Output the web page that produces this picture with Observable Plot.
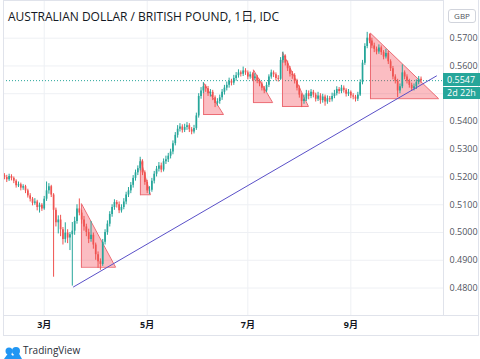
<!DOCTYPE html>
<html><head><meta charset="utf-8">
<script src="https://cdn.jsdelivr.net/npm/d3@7"></script>
<script src="https://cdn.jsdelivr.net/npm/@observablehq/plot@0.6"></script>
<style>
html,body{margin:0;padding:0;background:#fff;}
body{width:480px;height:359px;position:relative;overflow:hidden;font-family:"Open Sans","Noto Sans CJK SC",sans-serif;}
#wrap{position:absolute;left:0;top:0;}
.ov{position:absolute;white-space:nowrap;}
</style></head>
<body>
<div id="wrap"></div>
<script>
// ---- data (AUD/GBP daily, IDC) ----
const opens = [.5205,.5198,.5190,.5202,.5195,.5185,.5168,.5172,.5160,.5165,.5150,.5132,.5120,.5105,.5110,.5090,.5098,.5085,.5120,.5150,
.5165,.5135,.5080,.5035,.5045,.5010,.4975,.4998,.4980,.4992,.5005,.5040,.5085,.5070,.5045,.5020,.5000,.4975,.4990,.4955,
.4920,.4895,.4885,.4965,.5000,.5030,.5065,.5090,.5108,.5100,.5078,.5090,.5110,.5135,.5150,.5170,.5195,.5215,.5230,.5255,
.5215,.5180,.5150,.5152,.5185,.5210,.5228,.5240,.5225,.5255,.5262,.5275,.5290,.5320,.5350,.5372,.5380,.5368,.5378,.5385,
.5370,.5362,.5375,.5420,.5490,.5510,.5525,.5518,.5500,.5505,.5485,.5465,.5472,.5485,.5505,.5520,.5530,.5545,.5538,.5555,
.5565,.5575,.5570,.5582,.5575,.5560,.5568,.5555,.5560,.5545,.5535,.5520,.5510,.5530,.5560,.5575,.5568,.5555,.5552,.5620,
.5635,.5610,.5590,.5570,.5565,.5545,.5520,.5495,.5472,.5480,.5500,.5490,.5505,.5495,.5480,.5492,.5475,.5488,.5470,.5482,
.5478,.5490,.5500,.5515,.5508,.5520,.5512,.5498,.5505,.5492,.5488,.5480,.5495,.5540,.5610,.5670,.5700,.5690,.5672,.5660,
.5650,.5665,.5648,.5632,.5645,.5615,.5590,.5560,.5545,.5510,.5525,.5575,.5560,.5545,.5530,.5518,.5525,.5540,.5552];
const closes = [.5198,.5190,.5202,.5195,.5185,.5168,.5172,.5160,.5165,.5150,.5132,.5120,.5105,.5110,.5090,.5098,.5085,.5120,.5150,.5165,
.5135,.5080,.5035,.5045,.5010,.4975,.4998,.4980,.4992,.5005,.5040,.5085,.5070,.5045,.5020,.5000,.4975,.4990,.4955,.4920,
.4895,.4885,.4965,.5000,.5030,.5065,.5090,.5108,.5100,.5078,.5090,.5110,.5135,.5150,.5170,.5195,.5215,.5230,.5255,.5215,
.5180,.5150,.5152,.5185,.5210,.5228,.5240,.5225,.5255,.5262,.5275,.5290,.5320,.5350,.5372,.5380,.5368,.5378,.5385,.5370,
.5362,.5375,.5420,.5490,.5510,.5525,.5518,.5500,.5505,.5485,.5465,.5472,.5485,.5505,.5520,.5530,.5545,.5538,.5555,.5565,
.5575,.5570,.5582,.5575,.5560,.5568,.5555,.5560,.5545,.5535,.5520,.5510,.5530,.5560,.5575,.5568,.5555,.5552,.5620,.5635,
.5610,.5590,.5570,.5565,.5545,.5520,.5495,.5472,.5480,.5500,.5490,.5505,.5495,.5480,.5492,.5475,.5488,.5470,.5482,.5478,
.5490,.5500,.5515,.5508,.5520,.5512,.5498,.5505,.5492,.5488,.5480,.5495,.5540,.5610,.5670,.5700,.5690,.5672,.5660,.5650,
.5665,.5648,.5632,.5645,.5615,.5590,.5560,.5545,.5510,.5525,.5575,.5560,.5545,.5530,.5518,.5525,.5540,.5552,.5547];
const highs = [.5212,.5206,.5210,.5208,.5200,.5190,.5182,.5178,.5172,.5170,.5156,.5140,.5126,.5122,.5116,.5106,.5104,.5130,.5182,.5176,
.5170,.5140,.5088,.5060,.5062,.5018,.5035,.5010,.5000,.5036,.5055,.5100,.5121,.5080,.5058,.5030,.5012,.5040,.4998,.4962,
.4930,.4905,.4975,.5010,.5042,.5075,.5100,.5118,.5115,.5110,.5100,.5122,.5145,.5162,.5180,.5205,.5225,.5240,.5271,.5262,
.5222,.5188,.5165,.5195,.5220,.5238,.5252,.5250,.5265,.5275,.5285,.5300,.5330,.5360,.5385,.5392,.5388,.5390,.5396,.5392,
.5378,.5386,.5430,.5500,.5522,.5540,.5532,.5526,.5515,.5512,.5492,.5482,.5495,.5515,.5530,.5542,.5556,.5552,.5566,.5576,
.5586,.5582,.5596,.5590,.5582,.5578,.5575,.5572,.5566,.5552,.5542,.5526,.5540,.5568,.5585,.5582,.5575,.5565,.5630,.5650,
.5640,.5618,.5598,.5580,.5572,.5552,.5528,.5500,.5495,.5512,.5510,.5515,.5512,.5502,.5505,.5500,.5498,.5495,.5492,.5490,
.5502,.5512,.5525,.5522,.5530,.5528,.5518,.5515,.5510,.5500,.5494,.5505,.5550,.5620,.5680,.5721,.5715,.5700,.5682,.5668,
.5676,.5672,.5655,.5660,.5652,.5622,.5598,.5568,.5552,.5535,.5604,.5582,.5568,.5552,.5538,.5535,.5550,.5562,.5560];
const lows = [.5190,.5180,.5184,.5186,.5176,.5160,.5162,.5150,.5152,.5140,.5124,.5110,.5096,.5098,.5078,.5070,.5076,.5080,.5112,.5138,
.5126,.4839,.5020,.4995,.4985,.4955,.4962,.4960,.4935,.4807,.4990,.5030,.5060,.5030,.5005,.4985,.4960,.4965,.4940,.4900,
.4871,.4864,.4878,.4955,.4990,.5020,.5055,.5080,.5088,.5068,.5070,.5082,.5100,.5126,.5140,.5160,.5185,.5205,.5222,.5205,
.5170,.5140,.5136,.5145,.5175,.5200,.5218,.5215,.5218,.5245,.5252,.5265,.5280,.5312,.5340,.5362,.5358,.5360,.5368,.5360,
.5352,.5355,.5368,.5412,.5480,.5500,.5505,.5490,.5488,.5475,.5450,.5455,.5462,.5476,.5495,.5510,.5520,.5528,.5530,.5545,
.5556,.5560,.5562,.5566,.5550,.5552,.5546,.5548,.5536,.5525,.5510,.5500,.5504,.5522,.5552,.5558,.5546,.5542,.5548,.5610,
.5600,.5580,.5560,.5552,.5535,.5510,.5484,.5450,.5462,.5472,.5478,.5482,.5485,.5470,.5472,.5462,.5466,.5455,.5462,.5468,
.5470,.5482,.5492,.5498,.5500,.5502,.5488,.5490,.5482,.5478,.5470,.5472,.5490,.5532,.5602,.5662,.5680,.5662,.5648,.5640,
.5642,.5638,.5622,.5625,.5605,.5580,.5550,.5535,.5486,.5500,.5518,.5550,.5535,.5520,.5508,.5510,.5515,.5532,.5538];

// month ticks (bar index of first trading day) and labels
const monthTickIdx = [17, 61, 104, 148];
const monthLabels = ["3月", "5月", "7月", "9月"];
const priceTicks = [0.48, 0.49, 0.50, 0.51, 0.52, 0.53, 0.54, 0.56, 0.57];
const priceGrid = [0.48, 0.49, 0.50, 0.51, 0.52, 0.53, 0.54, 0.55, 0.56, 0.57];
const lastPrice = 0.5547;

// drawn triangles (bar index / price anchors)
const triLeft  = [32.9, 58.1, 85.1, 106.4, 118.8, 156.4];
const triRight = [47.5, 62.4, 93.6, 114.6, 129.9, 185.5];
const triTop   = [0.5104, 0.5264, 0.5539, 0.5586, 0.5650, 0.5718];
const triBase  = [0.4875, 0.5136, 0.5425, 0.5468, 0.5454, 0.5482];

// trend line anchors
const trendX = [29.5, 184.6];
const trendY = [0.4804, 0.5564];

const xDomain = [-0.4, 187.6];
const yDomain = [0.47011, 0.58357];

// ---- build ----
const GREEN = "#26a69a", RED = "#ef5350";
const rows = closes.map((c, i) => ({i, o: opens[i], h: highs[i], l: lows[i], c, col: c >= opens[i] ? GREEN : RED}));
const triArea = [], triLine = [];
triLeft.forEach((xl, k) => {
  triArea.push({k, x: xl, y1: triBase[k], y2: triTop[k]});
  triArea.push({k, x: triRight[k], y1: triBase[k], y2: triBase[k]});
  triLine.push({k, x: xl, y: triBase[k]}, {k, x: xl, y: triTop[k]}, {k, x: triRight[k], y: triBase[k]}, {k, x: xl, y: triBase[k]});
});
const trend = trendX.map((x, j) => ({x, y: trendY[j]}));

const chart = Plot.plot({
  width: 480, height: 338,
  marginLeft: 3, marginRight: 37, marginTop: 0, marginBottom: 23,
  style: {fontFamily: '"Open Sans","Noto Sans CJK SC",sans-serif', background: "#fff"},
  x: {domain: xDomain, axis: null},
  y: {domain: yDomain, axis: null},
  marks: [
    Plot.gridY(priceGrid, {stroke: "#eef0f4", strokeOpacity: 1}),
    Plot.gridX(monthTickIdx, {stroke: "#eef0f4", strokeOpacity: 1}),
    Plot.frame({stroke: "#e0e3eb"}),
    Plot.ruleY([lastPrice], {stroke: GREEN, strokeDasharray: "1,2", strokeWidth: 1}),
    Plot.areaY(triArea, {x: "x", y1: "y1", y2: "y2", z: "k", fill: "#f23645", fillOpacity: 0.33}),
    Plot.line(triLine, {x: "x", y: "y", z: "k", stroke: "#ec6a72", strokeWidth: 1}),
    Plot.ruleX(rows, {x: "i", y1: "l", y2: "h", stroke: "col", strokeWidth: 1}),
    Plot.ruleX(rows, {x: "i", y1: "o", y2: "c", stroke: "col", strokeWidth: 1.7}),
    Plot.line(trend, {x: "x", y: "y", stroke: "#5a50c8", strokeWidth: 1}),
    Plot.axisY(priceTicks, {anchor: "right", tickSize: 0, tickPadding: 6, tickFormat: d => d.toFixed(4), fontSize: 9, fill: "#50535e"}),
    Plot.axisX(monthTickIdx, {anchor: "bottom", tickSize: 0, tickPadding: 6, tickFormat: (d, j) => monthLabels[monthTickIdx.indexOf(d)], fontSize: 9, fontWeight: "bold", fill: "#131722"})
  ]
});
document.getElementById("wrap").appendChild(chart);

const ys = chart.scale("y").apply(lastPrice);
const html = `
<div class="ov" style="left:3px;top:0;width:476px;height:336px;border:1px solid #e0e3eb;box-sizing:border-box;border-top:none;"></div>
<div class="ov" style="left:3px;top:315px;width:476px;height:1px;background:#e0e3eb;"></div>
<div class="ov" style="left:8px;top:7px;font-size:12px;color:#131722;">AUSTRALIAN DOLLAR / BRITISH POUND, 1日, IDC</div>
<div class="ov" style="left:448px;top:9px;width:26px;height:12px;border:1px solid #d1d4dc;border-radius:3px;font-size:8px;line-height:12px;text-align:center;color:#50535e;box-sizing:content-box;">GBP</div>
<div class="ov" style="left:443px;top:${ys - 7}px;width:37px;height:13px;background:#26a69a;color:#fff;font-size:9px;line-height:13px;padding-left:4px;box-sizing:border-box;">${lastPrice.toFixed(4)}</div>
<div class="ov" style="left:443px;top:${ys + 7}px;width:37px;height:12px;background:#26a69a;color:#fff;font-size:9px;line-height:12px;padding-left:4px;box-sizing:border-box;">2d 22h</div>
<div class="ov" style="left:3px;top:343px;">
  <svg width="20" height="13" viewBox="0 0 20 13"><path d="M1 12 L6 5 L10 9 L14 3 L19 12 Z" fill="#2196f3"/><circle cx="6" cy="4" r="3.5" fill="#2196f3"/><circle cx="13" cy="4" r="4" fill="#2196f3"/></svg>
</div>
<div class="ov" style="left:23px;top:343px;font-size:10px;color:#2a2e39;">TradingView</div>`;
document.body.insertAdjacentHTML("beforeend", html);
</script>
</body></html>
